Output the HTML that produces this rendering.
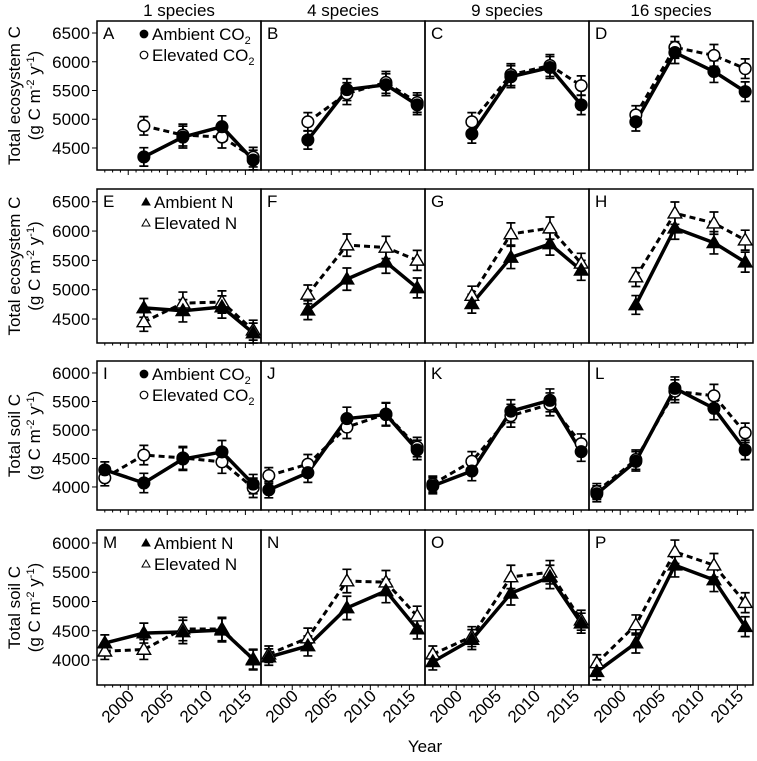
<!DOCTYPE html>
<html><head><meta charset="utf-8"><style>
html,body{margin:0;padding:0;background:#fff;}
svg{display:block;font-family:"Liberation Sans",Arial,sans-serif;}
</style></head><body>
<svg id="chart" width="757" height="761" viewBox="0 0 757 761" xmlns="http://www.w3.org/2000/svg"></svg>
<script>
// ---- data ----
const columnTitles = ["1 species","4 species","9 species","16 species"];
const panelLetters = ["A","B","C","D","E","F","G","H","I","J","K","L","M","N","O","P"];
const yearsShort = [2002,2007,2012,2016];
const yearsLong = [1997,2002,2007,2012,2016];
const xTickLabels = ["2000","2005","2010","2015"];
const yTicksEco = [4500,5000,5500,6000,6500];
const yTicksSoil = [4000,4500,5000,5500,6000];
// row 1: CO2, ecosystem C
const ambA=[4345,4690,4870,4290], eleA=[4885,4725,4690,4340];
const ambB=[4640,5515,5600,5250], eleB=[4955,5445,5640,5290];
const ambC=[4745,5740,5900,5250], eleC=[4955,5775,5935,5585];
const ambD=[4955,6160,5830,5480], eleD=[5075,6250,6110,5880];
// row 2: N, ecosystem C
const ambE=[4690,4640,4705,4260], eleE=[4450,4770,4790,4310];
const ambF=[4650,5180,5470,5030], eleF=[4920,5760,5720,5500];
const ambG=[4760,5550,5780,5330], eleG=[4900,5950,6050,5450];
const ambH=[4740,6050,5800,5470], eleH=[5215,6305,6135,5845];
// row 3: CO2, soil C
const ambI=[4300,4070,4490,4615,4050], eleI=[4160,4560,4510,4440,3985];
const ambJ=[3950,4250,5200,5270,4650], eleJ=[4200,4400,5050,5280,4700];
const ambK=[4020,4280,5330,5520,4620], eleK=[4050,4450,5250,5450,4760];
const ambL=[3880,4450,5730,5380,4650], eleL=[3920,4480,5680,5600,4950];
// row 4: N, soil C
const ambM=[4290,4460,4480,4510,4015], eleM=[4150,4180,4530,4530,4000];
const ambN=[4050,4240,4890,5180,4530], eleN=[4100,4375,5350,5330,4750];
const ambO=[3970,4350,5140,5420,4630], eleO=[4100,4400,5420,5500,4680];
const ambP=[3800,4290,5620,5370,4570], eleP=[3950,4600,5850,5620,4980];
const errShort=[160,190,190,170];
const errLong=[140,170,200,200,170];

const ambAll=[ambA,ambB,ambC,ambD,ambE,ambF,ambG,ambH,ambI,ambJ,ambK,ambL,ambM,ambN,ambO,ambP];
const eleAll=[eleA,eleB,eleC,eleD,eleE,eleF,eleG,eleH,eleI,eleJ,eleK,eleL,eleM,eleN,eleO,eleP];

// ---- layout ----
const NS="http://www.w3.org/2000/svg";
const svg=document.getElementById('chart');
const colX=[97,261,425,589], colW=164;
const rows=[{t:21,b:170,lo:4117,hi:6709},{t:189,b:343,lo:4091,hi:6717},{t:361,b:510,lo:3596,hi:6210},{t:530,b:685,lo:3573,hi:6222}];
const xLo=1996, xHi=2017;
function el(tag,attrs,parent){const e=document.createElementNS(NS,tag);for(const k in attrs)e.setAttribute(k,attrs[k]);(parent||svg).appendChild(e);return e;}
function xs(c,yr){return colX[c]+(yr-xLo)/(xHi-xLo)*colW;}
function ys(r,v){const R=rows[r];return R.b-(v-R.lo)/(R.hi-R.lo)*(R.b-R.t);}

function marker(g,shape,filled,x,y){
  let m;
  if(shape==='circle'){m=el('circle',{cx:x,cy:y,r:5.8,fill:filled?'#000':'#fff',stroke:'#000','stroke-width':1.5},g);}
  else{const s=6.8;m=el('polygon',{points:`${x},${y-s} ${x+s},${y+s*0.7} ${x-s},${y+s*0.7}`,fill:filled?'#000':'#fff',stroke:'#000','stroke-width':1.4},g);}
  
  
}

// column titles
columnTitles.forEach((t,c)=>{
  const e=el('text',{x:colX[c]+colW/2,y:16,'text-anchor':'middle','font-size':17},svg);
  e.textContent=t;
  
  
});

for(let r=0;r<4;r++){
  const R=rows[r];
  const isN=(r%2===1);
  const shape=isN?'tri':'circle';
  const yrs=r<2?yearsShort:yearsLong;
  const err=r<2?errShort:errLong;
  const ticks=r<2?yTicksEco:yTicksSoil;
  ticks.forEach(v=>{
    const y=ys(r,v);
    const tk=el('line',{x1:92,x2:97,y1:y,y2:y,stroke:'#000','stroke-width':1});
    
    
    const tl=el('text',{x:90,y:y+6,'text-anchor':'end','font-size':17});
    tl.textContent=v;
    
    
  });
  const cy=(R.t+R.b)/2;
  const t1=el('text',{x:0,y:0,'text-anchor':'middle','font-size':17,transform:`translate(20,${cy}) rotate(-90)`});
  t1.textContent=r<2?'Total ecosystem C':'Total soil C';
  
  
  const t2=el('text',{x:0,y:0,'text-anchor':'middle','font-size':17,transform:`translate(40,${cy}) rotate(-90)`});
  t2.innerHTML='(g C m<tspan dy="-6" font-size="11">-2</tspan><tspan dy="6"> y</tspan><tspan dy="-6" font-size="11">-1</tspan><tspan dy="6">)</tspan>';
  
  

  for(let c=0;c<4;c++){
    const p=r*4+c;
    const g=el('g',{});
    
    
    const fr=el('rect',{x:colX[c],y:R.t,width:colW,height:R.b-R.t,fill:'none',stroke:'#000','stroke-width':1.5},g);
    
    
    const lt=el('text',{x:colX[c]+6,y:R.t+18,'font-size':17},g);
    lt.textContent=panelLetters[p];
    
    
    for(let yr=1997;yr<=2016;yr++){
      const major=yr%5===0;
      const x=xs(c,yr);
      const tk=el('line',{x1:x,x2:x,y1:R.b,y2:R.b+(major?5:2.5),stroke:'#000','stroke-width':1},g);
      
      
    }
    if(r===3){
      xTickLabels.forEach(lb=>{
        const x=xs(c,+lb);
        const tl=el('text',{x:0,y:0,'text-anchor':'end','font-size':17,transform:`translate(${x+7},${R.b+12}) rotate(-45)`},g);
        tl.textContent=lb;
        
        
      });
    }
    const series=[{d:eleAll[p],filled:false,dash:'6,4',w:3},{d:ambAll[p],filled:true,dash:null,w:3.5}];
    series.forEach(s=>{
      const pts=s.d.map((v,i)=>xs(c,yrs[i])+','+ys(r,v)).join(' ');
      const pl=el('polyline',{points:pts,fill:'none',stroke:'#000','stroke-width':s.w,'stroke-linejoin':'round'},g);
      if(s.dash)pl.setAttribute('stroke-dasharray',s.dash);
      
      
      s.d.forEach((v,i)=>{
        const x=xs(c,yrs[i]);
        const y1=ys(r,v-err[i]),y2=ys(r,v+err[i]);
        const eb=el('path',{d:`M${x},${y1}V${y2}M${x-4.5},${y1}H${x+4.5}M${x-4.5},${y2}H${x+4.5}`,stroke:'#000','stroke-width':1.7,fill:'none'},g);
        
        
      });
    });
    series.forEach(s=>{s.d.forEach((v,i)=>marker(g,shape,s.filled,xs(c,yrs[i]),ys(r,v)));});
    if(c===0){
      const lg=el('g',{},g);
      
      
      const ly=[R.t+13,R.t+34];
      const mx=isN?146:144;
      [true,false].forEach((f,k)=>{
        const mg=el('g',{},lg);
        
        
        if(shape==='circle')el('circle',{cx:mx,cy:ly[k],r:3.8,fill:f?'#000':'#fff',stroke:'#000','stroke-width':1.2},mg);
        else{const s=4;el('polygon',{points:`${mx},${ly[k]-s} ${mx+s},${ly[k]+s*0.75} ${mx-s},${ly[k]+s*0.75}`,fill:f?'#000':'#fff',stroke:'#000','stroke-width':1},mg);}
        const tx=el('text',{x:mx+8,y:ly[k]+6,'font-size':17},mg);
        const nm=f?'Ambient':'Elevated';
        if(isN)tx.textContent=nm+' N';
        else tx.innerHTML=nm+' CO<tspan dy="4" font-size="11">2</tspan>';
      });
    }
  }
}
const xt=el('text',{x:425,y:752,'text-anchor':'middle','font-size':17});
xt.textContent='Year';


</script>
</body></html>
